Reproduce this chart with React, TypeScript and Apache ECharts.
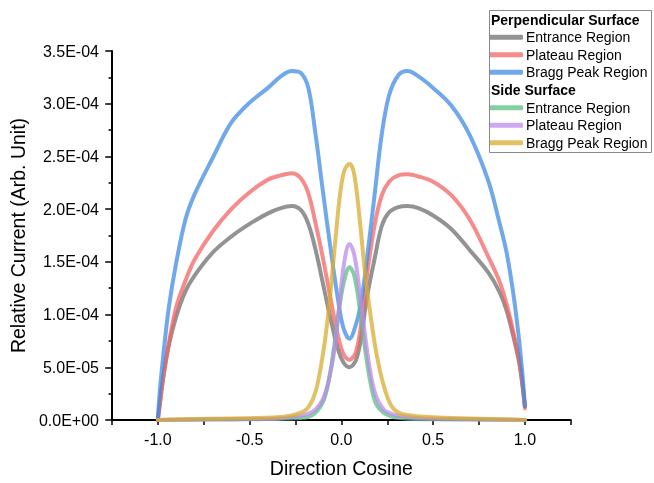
import React, { useEffect, useRef } from "react";
import * as echarts from "echarts";

// Direction cosine sample points
const perpX = [-1.0, -0.99, -0.97, -0.94, -0.9, -0.85, -0.8, -0.7, -0.6, -0.5, -0.4, -0.33, -0.27, -0.22, -0.18, -0.14, -0.1, -0.06, -0.02, 0.01, 0.044, 0.08, 0.11, 0.14, 0.18, 0.22, 0.26, 0.31, 0.36, 0.42, 0.5, 0.6, 0.7, 0.8, 0.86, 0.9, 0.94, 0.97, 0.99, 1.0];
const sideX = [-1.0, -0.8, -0.6, -0.45, -0.35, -0.28, -0.22, -0.18, -0.14, -0.1, -0.07, -0.04, -0.01, 0.015, 0.044, 0.07, 0.1, 0.13, 0.16, 0.19, 0.23, 0.27, 0.31, 0.37, 0.45, 0.6, 0.8, 1.0];

// Values in units of 1E-04
const perpEntrance = [0.0, 0.15, 0.41, 0.71, 0.98, 1.22, 1.37, 1.59, 1.74, 1.86, 1.96, 2.01, 2.03, 1.99, 1.86, 1.61, 1.29, 0.97, 0.68, 0.55, 0.5, 0.57, 0.81, 1.17, 1.52, 1.84, 1.97, 2.02, 2.03, 2.01, 1.94, 1.81, 1.61, 1.4, 1.22, 1.04, 0.77, 0.53, 0.28, 0.13];
const perpPlateau = [0.0, 0.13, 0.41, 0.73, 1.07, 1.32, 1.52, 1.79, 2.0, 2.16, 2.28, 2.32, 2.34, 2.29, 2.15, 1.86, 1.53, 1.16, 0.81, 0.63, 0.57, 0.65, 0.94, 1.38, 1.84, 2.13, 2.26, 2.32, 2.33, 2.31, 2.26, 2.13, 1.9, 1.55, 1.32, 1.1, 0.81, 0.56, 0.29, 0.11];
const perpBragg = [0.0, 0.26, 0.62, 1.07, 1.49, 1.9, 2.14, 2.49, 2.82, 3.01, 3.15, 3.26, 3.31, 3.29, 3.15, 2.7, 2.16, 1.64, 1.16, 0.88, 0.77, 0.91, 1.14, 1.54, 2.12, 2.71, 3.08, 3.27, 3.31, 3.26, 3.15, 2.98, 2.7, 2.27, 1.88, 1.59, 1.16, 0.73, 0.36, 0.13];
const sideEntrance = [0.0, 0.003, 0.005, 0.008, 0.01, 0.015, 0.02, 0.03, 0.07, 0.17, 0.36, 0.69, 1.08, 1.32, 1.45, 1.37, 1.06, 0.66, 0.34, 0.15, 0.07, 0.035, 0.02, 0.012, 0.008, 0.005, 0.003, 0.0];
const sidePlateau = [0.0, 0.005, 0.008, 0.01, 0.015, 0.025, 0.04, 0.06, 0.1, 0.2, 0.37, 0.64, 1.11, 1.49, 1.67, 1.57, 1.21, 0.79, 0.43, 0.22, 0.1, 0.06, 0.04, 0.025, 0.015, 0.01, 0.005, 0.0];
const sideBragg = [0.0, 0.01, 0.015, 0.02, 0.025, 0.04, 0.07, 0.12, 0.27, 0.63, 1.03, 1.57, 2.1, 2.36, 2.43, 2.33, 1.9, 1.38, 0.98, 0.64, 0.33, 0.14, 0.07, 0.045, 0.03, 0.02, 0.01, 0.0];

const seriesNames = ["Entrance Region", "Plateau Region", "Bragg Peak Region"];
const groupTitles = ["Perpendicular Surface", "Side Surface"];

const FONT = "'Liberation Sans', Arial, Helvetica, sans-serif";

function fmtY(v: number): string {
  if (v === 0) return "0.0E+00";
  const e = Math.floor(Math.log10(Math.abs(v)) + 1e-9);
  const m = v / Math.pow(10, e);
  return m.toFixed(1) + "E" + (e < 0 ? "-" : "+") + String(Math.abs(e)).padStart(2, "0");
}

function fmtX(v: number): string {
  const t = v * 2;
  if (Math.abs(t - Math.round(t)) < 1e-6) return (Math.round(t) / 2).toFixed(1);
  return "";
}

function build(xs: number[], ys: number[]) {
  return xs.map((x, i) => [x, ys[i] * 1e-4]);
}

export default function App() {
  const ref = useRef<HTMLDivElement>(null);
  useEffect(() => {
    if (!ref.current) return;
    const chart = echarts.init(ref.current, undefined, { renderer: "svg" });
    const groups = [
      { names: seriesNames.map((n) => n), xs: perpX, data: [perpEntrance, perpPlateau, perpBragg], colors: ["rgba(111,111,111,0.75)", "rgba(243,100,100,0.75)", "rgba(64,139,230,0.75)"] },
      { names: seriesNames.map((n) => n + " "), xs: sideX, data: [sideEntrance, sidePlateau, sideBragg], colors: ["rgba(88,191,128,0.75)", "rgba(186,139,235,0.75)", "rgba(216,172,50,0.75)"] },
    ];
    const series: any[] = [];
    groups.forEach((g) => {
      g.data.forEach((d, i) => {
        series.push({
          type: "line",
          name: g.names[i],
          data: build(g.xs, d),
          smooth: 0.35,
          showSymbol: false,
          symbol: "none",
          color: g.colors[i],
          lineStyle: { width: 4, color: g.colors[i], cap: "round", join: "round" },
        });
      });
    });
    const legendCommon = {
      orient: "vertical",
      left: 489,
      padding: 0,
      itemWidth: 34,
      itemHeight: 5,
      itemGap: 1.5,
      icon: "roundRect",
      selectedMode: false,
      textStyle: { fontFamily: FONT, fontSize: 14, color: "#000", lineHeight: 16, padding: [0, 0, 0, -2] },
    };
    chart.setOption({
      animation: false,
      textStyle: { fontFamily: FONT },
      grid: { left: 104.6, right: 83.2, top: 51, bottom: 56.3, containLabel: false },
      legend: [
        { ...legendCommon, top: 29.3, data: groups[0].names },
        { ...legendCommon, top: 99.7, data: groups[1].names },
      ],
      graphic: [
        { type: "rect", shape: { x: 489.5, y: 10.5, width: 162, height: 142 }, style: { fill: "none", stroke: "#8a8a8a", lineWidth: 1 }, z: 100 },
        { type: "text", x: 491, y: 20, style: { text: groupTitles[0], font: `bold 14px ${FONT}`, fill: "#000", verticalAlign: "middle" }, z: 100 },
        { type: "text", x: 491, y: 90, style: { text: groupTitles[1], font: `bold 14px ${FONT}`, fill: "#000", verticalAlign: "middle" }, z: 100 },
      ],
      xAxis: {
        type: "value",
        min: -1.25,
        max: 1.25,
        interval: 0.25,
        name: "Direction Cosine",
        nameLocation: "middle",
        nameGap: 38,
        nameTextStyle: { fontFamily: FONT, fontSize: 19.5, color: "#000" },
        axisLine: { show: true, onZero: false, lineStyle: { color: "#000", width: 2 } },
        axisTick: { show: true, inside: false, length: 5, lineStyle: { color: "#000", width: 1.5 } },
        axisLabel: { formatter: fmtX, fontFamily: FONT, fontSize: 16, color: "#000", margin: 11.5, showMinLabel: true, showMaxLabel: true },
        splitLine: { show: false },
      },
      yAxis: {
        type: "value",
        min: 0,
        max: 3.5e-4,
        interval: 5e-5,
        name: "Relative Current (Arb. Unit)",
        nameLocation: "middle",
        nameGap: 75,
        nameTextStyle: { fontFamily: FONT, fontSize: 19.5, color: "#000" },
        axisLine: { show: true, onZero: false, lineStyle: { color: "#000", width: 2 } },
        axisTick: { show: true, inside: false, length: 6.7, lineStyle: { color: "#000", width: 1.5 } },
        minorTick: { show: true, splitNumber: 2, length: 3.4, lineStyle: { color: "#000", width: 1.5 } },
        axisLabel: { formatter: fmtY, fontFamily: FONT, fontSize: 16, color: "#000", margin: 13 },
        splitLine: { show: false },
      },
      series,
    });
    return () => chart.dispose();
  }, []);
  return <div ref={ref} style={{ position: "fixed", left: 0, top: 0, width: 654, height: 483 }} />;
}
